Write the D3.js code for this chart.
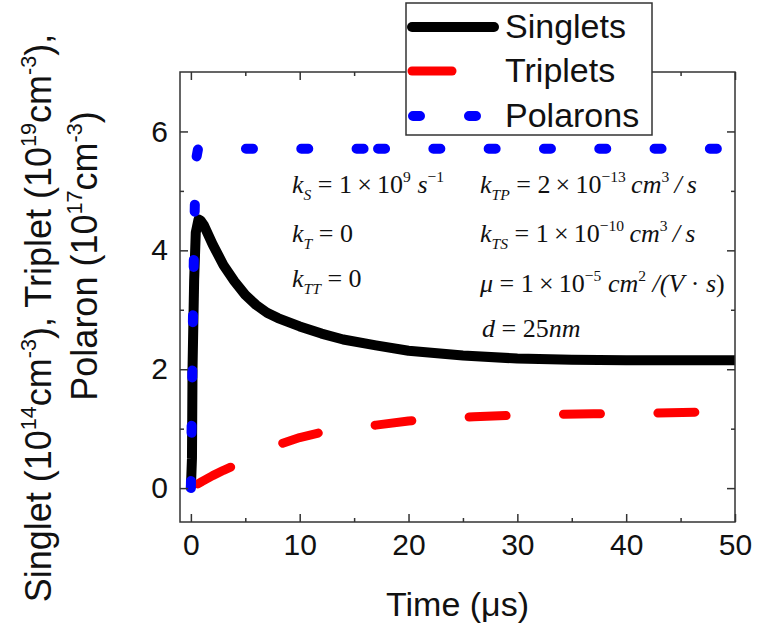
<!DOCTYPE html>
<html>
<head>
<meta charset="utf-8">
<script src="https://cdn.jsdelivr.net/npm/d3@7"></script>
<style>
  html, body { margin: 0; padding: 0; background: #fff; }
  svg { display: block; }
  text { white-space: pre; }
</style>
</head>
<body>
<svg id="chart" width="757" height="628"></svg>
<script>
// ---------------- data ----------------
const seriesNames = ["Singlets", "Triplets", "Polarons"];
const seriesColors = ["#000000", "#ff0000", "#0000ff"];

// Singlets (1e14 cm^-3) vs time (us)
const singletTime  = [0, 0.1, 0.15, 0.3, 0.45, 0.7, 0.9, 1.2, 2, 3, 4, 5, 6, 7, 8, 10, 12, 14, 17, 20, 25, 30, 35, 40, 45, 50];
const singletValue = [0, 0.5, 2.0, 3.5, 4.3, 4.52, 4.5, 4.42, 4.1, 3.75, 3.48, 3.25, 3.08, 2.95, 2.86, 2.72, 2.6, 2.5, 2.4, 2.31, 2.23, 2.18, 2.16, 2.15, 2.15, 2.15];

// Triplets (1e19 cm^-3)
const tripletTime  = [0, 1, 2, 3, 4, 6, 8, 10, 12, 15, 17, 20, 23, 26, 29, 33, 37, 42, 47, 50];
const tripletValue = [0, 0.11, 0.21, 0.3, 0.38, 0.57, 0.73, 0.85, 0.94, 1.02, 1.06, 1.13, 1.17, 1.2, 1.22, 1.24, 1.25, 1.26, 1.28, 1.29];

// Polarons (1e17 cm^-3), exported in two sections
const polaronTime1  = [0, 0.1, 0.2, 0.3, 0.4, 0.5, 0.65, 1, 17.2];
const polaronValue1 = [0, 1.5, 3.0, 4.2, 5.1, 5.55, 5.7, 5.71, 5.71];
const polaronTime2  = [17.2, 50];
const polaronValue2 = [5.71, 5.71];

const xMajorTicks = [0, 10, 20, 30, 40, 50];
const xMinorTicks = [5, 15, 25, 35, 45];
const yMajorTicks = [0, 2, 4, 6];
const yMinorTicks = [1, 3, 5];
const xTickLabels = ["0", "10", "20", "30", "40", "50"];
const yTickLabels = ["0", "2", "4", "6"];

const xTitle = "Time (\u03bcs)";

// ---------------- layout ----------------
const svg = d3.select("#chart");
const L = 180, R = 735, T = 72, B = 522;
const x = d3.scaleLinear().domain([-1, 50]).range([L, R]);
const y = d3.scaleLinear().domain([-0.57, 7]).range([B, T]);
const frameColor = "#333";
const sans = "'Liberation Sans', Arial, sans-serif";
const serif = "'Liberation Serif', 'Times New Roman', serif";

// rich text helper
function rich(sel, segs, base, scriptScale) {
  let cur = 0;
  segs.forEach(([txt, f]) => {
    const target = f.includes("^") ? -0.42 * base : f.includes("_") ? 0.25 * base : 0;
    sel.append("tspan")
      .attr("dy", target - cur)
      .attr("font-size", (f.includes("^") || f.includes("_")) ? base * scriptScale : base)
      .attr("font-style", f.includes("i") ? "italic" : "normal")
      .text(txt);
    cur = target;
  });
}

// ---------------- curves ----------------
const line = d3.line().x(d => x(d[0])).y(d => y(d[1]));
const zip = (a, b) => a.map((t, i) => [t, b[i]]);

const plot = svg.append("g");
plot.append("path").datum(zip(singletTime, singletValue))
  .attr("d", line).attr("fill", "none").attr("stroke", seriesColors[0])
  .attr("stroke-width", 10).attr("stroke-linejoin", "round");
plot.append("path").datum(zip(tripletTime, tripletValue))
  .attr("d", line).attr("fill", "none").attr("stroke", seriesColors[1])
  .attr("stroke-width", 9).attr("stroke-linecap", "round").attr("stroke-linejoin", "round")
  .attr("stroke-dasharray", "37,57.4").attr("stroke-dashoffset", -8);
[zip(polaronTime1, polaronValue1), zip(polaronTime2, polaronValue2)].forEach(seg => {
  plot.append("path").datum(seg)
    .attr("d", line).attr("fill", "none").attr("stroke", seriesColors[2])
    .attr("stroke-width", 10).attr("stroke-linecap", "round").attr("stroke-linejoin", "round")
    .attr("stroke-dasharray", "7,48.3");
});

// ---------------- axes ----------------
function styleAxis(g) {
  g.select(".domain").remove();
  g.selectAll("line").attr("stroke", frameColor).attr("stroke-width", 1.5);
  g.selectAll("text").attr("font-family", sans).attr("font-size", 30).attr("fill", "#111");
}
svg.append("g").attr("transform", `translate(0,${B})`)
  .call(d3.axisBottom(x).tickValues(xMajorTicks).tickSize(-8).tickPadding(12)
    .tickFormat((d, i) => xTickLabels[i])).call(styleAxis);
svg.append("g").attr("transform", `translate(0,${B})`)
  .call(d3.axisBottom(x).tickValues(xMinorTicks).tickSize(-4).tickFormat("")).call(styleAxis);
svg.append("g").attr("transform", `translate(0,${T})`)
  .call(d3.axisTop(x).tickValues(xMajorTicks).tickSize(-8).tickFormat("")).call(styleAxis);
svg.append("g").attr("transform", `translate(0,${T})`)
  .call(d3.axisTop(x).tickValues(xMinorTicks).tickSize(-4).tickFormat("")).call(styleAxis);
svg.append("g").attr("transform", `translate(${L},0)`)
  .call(d3.axisLeft(y).tickValues(yMajorTicks).tickSize(-8).tickPadding(12)
    .tickFormat((d, i) => yTickLabels[i])).call(styleAxis);
svg.append("g").attr("transform", `translate(${L},0)`)
  .call(d3.axisLeft(y).tickValues(yMinorTicks).tickSize(-4).tickFormat("")).call(styleAxis);
svg.append("g").attr("transform", `translate(${R},0)`)
  .call(d3.axisRight(y).tickValues(yMajorTicks).tickSize(-8).tickFormat("")).call(styleAxis);
svg.append("g").attr("transform", `translate(${R},0)`)
  .call(d3.axisRight(y).tickValues(yMinorTicks).tickSize(-4).tickFormat("")).call(styleAxis);

// frame
svg.append("rect").attr("x", L).attr("y", T).attr("width", R - L).attr("height", B - T)
  .attr("fill", "none").attr("stroke", frameColor).attr("stroke-width", 1.5);

// x title
svg.append("text").attr("x", (L + R) / 2).attr("y", 616).attr("text-anchor", "middle")
  .attr("font-family", sans).attr("font-size", 34).attr("fill", "#111").text(xTitle);

// y title (two lines)
const yl1 = svg.append("text").attr("transform", "translate(51,318) rotate(-90)")
  .attr("text-anchor", "middle").attr("font-family", sans).attr("fill", "#111");
rich(yl1, [["Singlet (10", ""], ["14", "^"], ["cm", ""], ["-3", "^"], ["), Triplet (10", ""], ["19", "^"], ["cm", ""], ["-3", "^"], ["),", ""]], 36, 0.6);
const yl2 = svg.append("text").attr("transform", "translate(97,256) rotate(-90)")
  .attr("text-anchor", "middle").attr("font-family", sans).attr("fill", "#111");
rich(yl2, [["Polaron (10", ""], ["17", "^"], ["cm", ""], ["-3", "^"], [")", ""]], 36, 0.6);

// annotations
const X = "\u2009\u00d7\u2009";
const ann = [
  [292, 193, [["k", "i"], ["S", "i_"], [" = 1" + X + "10", ""], ["9", "^"], [" s", "i"], ["\u22121", "^"]]],
  [292, 242, [["k", "i"], ["T", "i_"], [" = 0", ""]]],
  [292, 287, [["k", "i"], ["TT", "i_"], [" = 0", ""]]],
  [480, 193, [["k", "i"], ["TP", "i_"], [" = 2" + X + "10", ""], ["\u221213", "^"], ["\u2009cm", "i"], ["3", "^"], ["\u2009/\u2009s", "i"]]],
  [480, 242, [["k", "i"], ["TS", "i_"], [" = 1" + X + "10", ""], ["\u221210", "^"], ["\u2009cm", "i"], ["3", "^"], ["\u2009/\u2009s", "i"]]],
  [480, 292, [["\u03bc", "i"], [" = 1" + X + "10", ""], ["\u22125", "^"], [" cm", "i"], ["2", "^"], [" /(V", "i"], [" \u00b7 ", ""], ["s", "i"], [")", ""]]],
  [482, 337, [["d", "i"], [" = 25", ""], ["nm", "i"]]]
];
ann.forEach(([ax, ay, segs]) => {
  const t = svg.append("text").attr("x", ax).attr("y", ay)
    .attr("font-family", serif).attr("fill", "#111");
  rich(t, segs, 26, 0.6);
});

// ---------------- legend ----------------
const lg = svg.append("g");
lg.append("rect").attr("x", 406).attr("y", 3).attr("width", 246).attr("height", 132)
  .attr("fill", "#fff").attr("stroke", frameColor).attr("stroke-width", 1.5);
const legendRows = [27, 71, 116];
const legendStyles = [
  { w: 10, dash: null, len: [412, 494] },
  { w: 9, dash: "40,57", len: [412, 498] },
  { w: 10, dash: "7,49", len: [413, 476] }
];
seriesNames.forEach((name, i) => {
  const s = legendStyles[i];
  const ln = lg.append("line").attr("x1", s.len[0]).attr("x2", s.len[1])
    .attr("y1", legendRows[i]).attr("y2", legendRows[i])
    .attr("stroke", seriesColors[i]).attr("stroke-width", s.w).attr("stroke-linecap", "round");
  if (s.dash) ln.attr("stroke-dasharray", s.dash);
  lg.append("text").attr("x", 505).attr("y", legendRows[i] + 11)
    .attr("font-family", sans).attr("font-size", 34).attr("fill", "#111").text(name);
});
</script>
</body>
</html>
